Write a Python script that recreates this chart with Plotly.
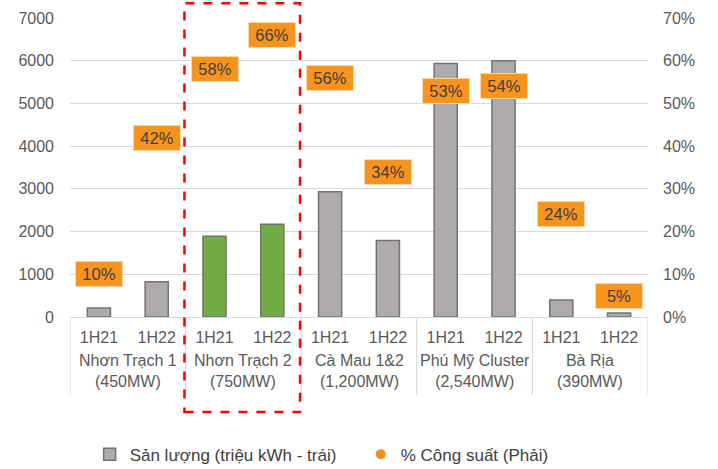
import plotly.graph_objects as go

groups = ["Nhơn Trạch 1<br>(450MW)", "Nhơn Trạch 2<br>(750MW)", "Cà Mau 1&2<br>(1,200MW)",
          "Phú Mỹ Cluster<br>(2,540MW)", "Bà Rịa<br>(390MW)"]
periods = ["1H21", "1H22"]
output_vals = [210, 825, 1890, 2170, 2935, 1790, 5935, 6000, 397, 95]
capacity_pct = [10, 42, 58, 66, 56, 34, 53, 54, 24, 5]
highlight_group = "Nhơn Trạch 2<br>(750MW)"

x_group = [g for g in groups for _ in periods]
x_sub = [p for _ in groups for p in periods]
x_idx = list(range(len(x_sub)))
bar_colors = ["#70AD47" if g == highlight_group else "#AFABAB" for g in x_group]

FONT = "Arial, Liberation Sans, sans-serif"
TXT = "#595959"
GRID = "#D9D9D9"
fig = go.Figure()
fig.add_trace(go.Bar(
    x=x_idx, y=output_vals, name="Sản lượng (triệu kWh - trái)",
    marker=dict(color=bar_colors, line=dict(color="#767171", width=1.5)),
    width=0.4, legend="legend",
))
fig.add_trace(go.Scatter(
    x=x_idx, y=capacity_pct, name="% Công suất (Phải)", yaxis="y2",
    mode="markers", marker=dict(color="#F28E1E", size=10), legend="legend2",
))
for i, v in zip(x_idx, capacity_pct):
    fig.add_annotation(x=i, y=v, xref="x", yref="y2", text=f"{v}%", showarrow=False,
                       bgcolor="#F7941D", bordercolor="#FBD9A6", borderwidth=1, borderpad=3,
                       font=dict(family=FONT, size=16.5, color="#404040"), width=40)

# group labels and dividers
ng = len(groups)
for g, name in enumerate(groups):
    fig.add_annotation(x=2 * g + 0.5, y=-0.112, xref="x", yref="paper", text=name,
                       showarrow=False, yanchor="top",
                       font=dict(family=FONT, size=16, color=TXT))
for g in range(ng + 1):
    fig.add_shape(type="line", xref="x", yref="paper", x0=2 * g - 0.5, x1=2 * g - 0.5,
                  y0=0, y1=-0.26, line=dict(color=GRID, width=1.2))

gi = groups.index(highlight_group)
fig.add_shape(type="rect", xref="x", yref="paper", x0=2 * gi - 0.52, x1=2 * gi + 1.48,
              y0=-0.318, y1=1.049, line=dict(color="#FF0000", width=2.5, dash="dash"))

legend_common = dict(orientation="h", y=-0.4, xanchor="left", yanchor="top",
                     font=dict(size=17, color="#404040"), itemwidth=30,
                     bgcolor="rgba(0,0,0,0)")
fig.update_layout(
    width=718, height=469, margin=dict(l=70, r=70, t=18, b=152, autoexpand=False),
    paper_bgcolor="white", plot_bgcolor="white",
    font=dict(family=FONT, size=16, color=TXT),
    xaxis=dict(range=[-0.5, 9.5], tickvals=x_idx, ticktext=x_sub, showline=True,
               linecolor=GRID, linewidth=1.2, showgrid=False, zeroline=False,
               ticks="", ticklabelstandoff=6, tickfont=dict(size=16, color=TXT)),
    yaxis=dict(range=[0, 7000], dtick=1000, showgrid=True, gridcolor=GRID, gridwidth=1.2,
               zeroline=False, ticklabelstandoff=15, tickfont=dict(size=16, color=TXT)),
    yaxis2=dict(range=[0, 70], dtick=10, overlaying="y", side="right", showgrid=False,
                ticksuffix="%", zeroline=False, ticklabelstandoff=14,
                tickfont=dict(size=16, color=TXT)),
    legend=dict(x=0.034, **legend_common),
    legend2=dict(x=0.503, **legend_common),
    showlegend=True,
)
fig.write_html("out.html")
